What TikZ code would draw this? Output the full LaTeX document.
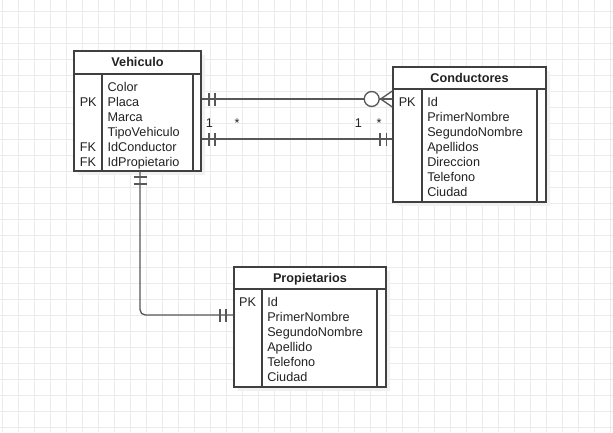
\documentclass[tikz,border=0pt]{standalone}
\usepackage{fontspec}
\setmainfont{Liberation Sans}
\usetikzlibrary{fit,shadows}
\definecolor{gridc}{HTML}{EBEBEB}
\definecolor{boxc}{HTML}{404040}
\definecolor{connc}{HTML}{585858}
\definecolor{shadc}{HTML}{F1F1F1}
\definecolor{txtc}{HTML}{222222}
\tikzset{
  gridl/.style={draw=gridc, line width=0.75pt},
  tbl/.style={draw=boxc, line width=1pt, fill=white, inner sep=0pt,
    drop shadow={shadow xshift=3pt, shadow yshift=-3pt, fill=shadc, opacity=1}},
  tline/.style={draw=boxc, line width=1pt},
  conn/.style={draw=connc, line width=1pt},
  txt/.style={anchor=base west, inner sep=0pt, font=\fontsize{9.5}{11}\selectfont, text=txtc},
  ttl/.style={anchor=base, inner sep=0pt, font=\fontsize{9.5}{11}\selectfont\bfseries, text=txtc},
  lbl/.style={anchor=base, inner sep=0pt, font=\fontsize{9.5}{11}\selectfont, text=txtc},
}
\begin{document}
\begin{tikzpicture}[x=0.75pt, y=-0.75pt]
\useasboundingbox (0,0) rectangle (613,432);
\fill[white] (0,0) rectangle (613,432);
% grid
\foreach \k in {0,...,38} \draw[gridl] (2+16*\k,0) -- (2+16*\k,432);
\foreach \k in {0,...,26} \draw[gridl] (0,11.7+16*\k) -- (613,11.7+16*\k);

% ---- Vehiculo
\node[tbl, fit={(74,51) (201,171)}] (veh) {};
\draw[tline] (74,74) -- (201,74);
\draw[tline] (102,74) -- (102,171);
\draw[tline] (193,74) -- (193,171);
\node[ttl] (vehT) at (137.5,66.7) {Vehiculo};
\foreach \t [count=\i from 0] in {Color,Placa,Marca,TipoVehiculo,IdConductor,IdPropietario}
  \node[txt] (va\i) at (107.3,91+15*\i) {\t};
\node[txt] (vk1) at (79.5,106) {PK};
\node[txt] (vk4) at (79.5,151) {FK};
\node[txt] (vk5) at (79.5,166) {FK};

% ---- Conductores
\node[tbl, fit={(393,67) (546,202)}] (cond) {};
\draw[tline] (393,89) -- (546,89);
\draw[tline] (422,89) -- (422,202);
\draw[tline] (537,89) -- (537,202);
\node[ttl] (condT) at (469.5,82.3) {Conductores};
\foreach \t [count=\i from 0] in {Id,PrimerNombre,SegundoNombre,Apellidos,Direccion,Telefono,Ciudad}
  \node[txt] (ca\i) at (427,106.7+15*\i) {\t};
\node[txt] (ck0) at (398.5,106.7) {PK};

% ---- Propietarios
\node[tbl, fit={(234,267) (386,387)}] (prop) {};
\draw[tline] (234,289) -- (386,289);
\draw[tline] (262,289) -- (262,387);
\draw[tline] (377,289) -- (377,387);
\node[ttl] (propT) at (310,282.3) {Propietarios};
\foreach \t [count=\i from 0] in {Id,PrimerNombre,SegundoNombre,Apellido,Telefono,Ciudad}
  \node[txt] (pa\i) at (267,306.7+15*\i) {\t};
\node[txt] (pk0) at (238.8,306.7) {PK};

% ---- connector 1: Vehiculo -- Conductores (one to zero-or-many)
\draw[conn] (veh.east |- 0,99) -- (cond.west |- 0,99);
\draw[conn] (209,92.5) -- (209,105.5);
\draw[conn] (215,92.5) -- (215,105.5);
\node[circle, draw=connc, line width=1pt, fill=white, minimum size=11.2pt, inner sep=0pt] (cf1) at (371.7,99) {};
\coordinate (fork1) at (380.7,99);
\draw[conn] (fork1) -- (cond.west |- 0,91);
\draw[conn] (fork1) -- (cond.west |- 0,107);

% ---- connector 2: Vehiculo -- Conductores (one to one)
\draw[conn] (veh.east |- 0,139) -- (cond.west |- 0,139);
\draw[conn] (209,132.5) -- (209,145.5);
\draw[conn] (215,132.5) -- (215,145.5);
\draw[conn] (380,132.5) -- (380,145.5);
\draw[conn] (386.5,132.5) -- (386.5,145.5);
\node[lbl] (l1a) at (209.3,127.3) {1};
\node[lbl] (l1b) at (237,127.3) {*};
\node[lbl] (l2a) at (358.3,127.3) {1};
\node[lbl] (l2b) at (379,127.3) {*};

% ---- connector 3: Vehiculo -- Propietarios
\draw[conn, rounded corners=4pt] (veh.south -| 140,0) |- (prop.west |- 0,315);
\draw[conn] (133.5,177) -- (146.5,177);
\draw[conn] (133.5,184) -- (146.5,184);
\draw[conn] (220,308.5) -- (220,321.5);
\draw[conn] (226,308.5) -- (226,321.5);
\end{tikzpicture}
\end{document}
